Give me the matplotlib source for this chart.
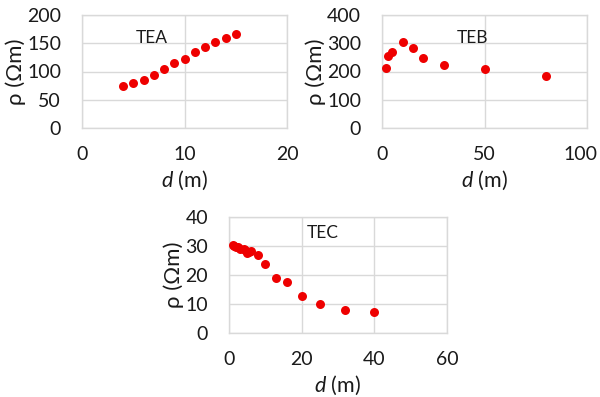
import matplotlib
matplotlib.use("Agg")
import matplotlib.pyplot as plt
from matplotlib.transforms import ScaledTranslation

plt.rcParams['font.family'] = ['Lato', 'DejaVu Sans']
plt.rcParams['mathtext.fontset'] = 'custom'
plt.rcParams['mathtext.it'] = 'Lato:italic'
plt.rcParams['mathtext.rm'] = 'Lato'

# Resistivity profiles
tea_d = [4, 5, 6, 7, 8, 9, 10, 11, 12, 13, 14, 15]
tea_rho = [74, 79, 85, 93, 104, 115, 122, 134, 144, 153, 160, 166]

teb_d = [2, 3, 5, 10, 15, 20, 30, 50, 80]
teb_rho = [213, 254, 270, 305, 282, 248, 222, 208, 185]

tec_d = [1, 1.5, 2, 2.5, 3, 4, 4.5, 5, 5.5, 6, 8, 10, 13, 16, 20, 25, 32, 40]
tec_rho = [30.2, 30.0, 29.8, 29.6, 29.0, 28.8, 28.5, 27.5, 27.8, 28.2,
           26.8, 23.9, 18.9, 17.6, 12.9, 10.0, 7.8, 7.1]

panels = [
    dict(name="TEA", d=tea_d, rho=tea_rho, xlim=(0, 20), xt=[0, 10, 20],
         ylim=(0, 200), yt=[0, 50, 100, 150, 200], rect=(82, 15, 287, 128),
         lab=(0.34, 0.80)),
    dict(name="TEB", d=teb_d, rho=teb_rho, xlim=(0, 100), xt=[0, 50, 100],
         ylim=(0, 400), yt=[0, 100, 200, 300, 400], rect=(382, 15, 587, 128),
         lab=(0.44, 0.80)),
    dict(name="TEC", d=tec_d, rho=tec_rho, xlim=(0, 60), xt=[0, 20, 40, 60],
         ylim=(0, 40), yt=[0, 10, 20, 30, 40], rect=(229, 217, 447, 333),
         lab=(0.43, 0.86)),
]

W, H = 600, 397
fig = plt.figure(figsize=(W / 100, H / 100), dpi=100)
grid_c = '#d9d9d9'
text_c = '#1a1a1a'

for p in panels:
    x0, y0, x1, y1 = p["rect"]
    ax = fig.add_axes([x0 / W, 1 - y1 / H, (x1 - x0) / W, (y1 - y0) / H])
    ax.scatter(p["d"], p["rho"], s=42, color='#ee0000', zorder=3, linewidths=0)
    ax.set_xlim(*p["xlim"])
    ax.set_ylim(*p["ylim"])
    ax.set_xticks(p["xt"])
    ax.set_yticks(p["yt"])
    ax.grid(True, color=grid_c, linewidth=1)
    ax.set_axisbelow(True)
    for s in ax.spines.values():
        s.set_color(grid_c)
        s.set_linewidth(1)
    ax.tick_params(length=0, labelsize=14, colors=text_c)
    ax.tick_params(axis='x', pad=13)
    ax.tick_params(axis='y', pad=15)
    ax.set_xlabel(r"$d$ (m)", fontsize=15.5, color=text_c, labelpad=4)
    ax.set_ylabel("ρ (Ωm)", fontsize=16, color=text_c, labelpad=1)
    ax.text(p["lab"][0], p["lab"][1], p["name"], transform=ax.transAxes,
            ha='center', va='center', fontsize=12.5, color=text_c)

    # keep the last x tick label inside the figure
    if p["name"] == "TEB":
        fig.canvas.draw()
        last = ax.get_xticklabels()[-1]
        last.set_transform(last.get_transform()
                           + ScaledTranslation(-5 / 72, 0, fig.dpi_scale_trans))

fig.savefig("out.png", dpi=100)
